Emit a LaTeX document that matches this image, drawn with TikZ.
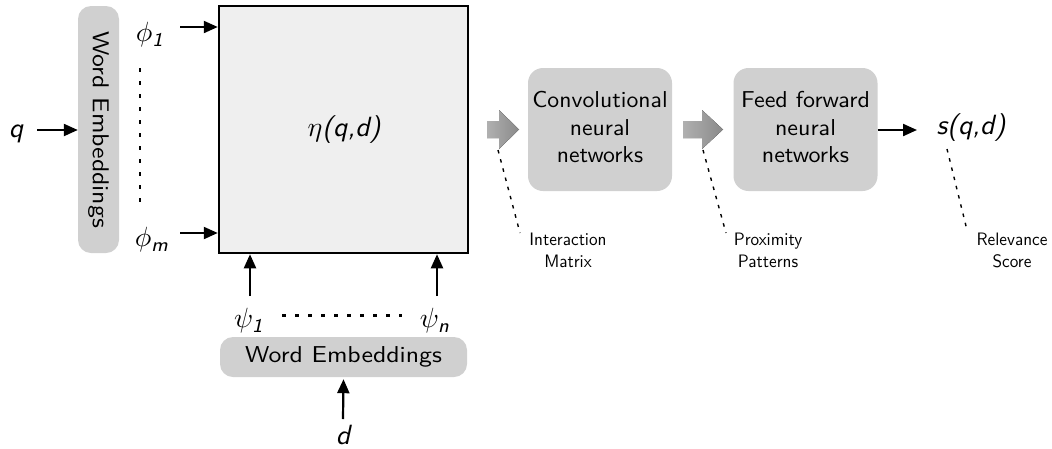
\documentclass[tikz,border=0pt]{standalone}
\usepackage{graphicx}
\usepackage{amsmath}
\usetikzlibrary{arrows.meta}
\renewcommand{\familydefault}{\sfdefault}
\definecolor{boxgray}{HTML}{D0D0D0}
\definecolor{matfill}{HTML}{EFEFEF}
\newcommand{\btxt}[2]{\scalebox{#1}[2.3]{\begin{tabular}{@{}c@{}}#2\end{tabular}}}
\newcommand{\ltxt}[1]{\scalebox{1.72}[1.8]{\begin{tabular}{@{}c@{}}#1\end{tabular}}}
\newcommand{\vtxt}[1]{\scalebox{2.78}{\itshape #1}}
\newcommand{\sbi}[1]{\text{\itshape #1}}
\begin{document}
\begin{tikzpicture}[x=1pt,y=-1pt,
  font=\fontsize{10}{12}\selectfont\sffamily,
  emb/.style={fill=boxgray, rounded corners=13pt, inner sep=0pt},
  nn/.style={fill=boxgray, rounded corners=15pt, minimum width=144pt, minimum height=123pt, align=center, inner sep=0pt},
  arr/.style={-{Triangle[length=14pt,width=12pt]}, line width=2.2pt},
  bigdots/.style={dash pattern=on 4pt off 9pt, line width=2.8pt},
  thindots/.style={dash pattern=on 3.5pt off 6pt, line width=1.4pt},
  lbl/.style={inner sep=0pt},
  var/.style={inner sep=0pt},
  bigarrow/.style={left color=gray!62, right color=gray!92}]
\useasboundingbox (0,0) rectangle (1052,448);

% left word embeddings
\node[emb, rotate=-90, minimum width=247pt, minimum height=41pt] (wq) at (98.5,129.5) {\btxt{2.58}{Word Embeddings}};
\node[var] (q) at (16,134) {\vtxt{q}};
\coordinate (qs) at (37,130);
\draw[arr] (qs) -- (qs -| wq.south);

% interaction matrix
\node[draw, line width=2.5pt, fill=matfill, minimum width=249pt, minimum height=247pt, inner sep=0pt] (M) at (343.5,129.5) {};
\node[var] (eta) at (344,130) {\vtxt{$\eta$(q,d)}};

% phi side
\node[var] (phi1) at (150,35) {\vtxt{$\phi_{\sbi{1}}$}};
\node[var] (phim) at (152,240) {\vtxt{$\phi_{\sbi{m}}$}};
\coordinate (p1s) at (180,27);
\coordinate (pms) at (180,233);
\draw[arr] (p1s) -- (p1s -| M.west);
\draw[arr] (pms) -- (pms -| M.west);
\draw[bigdots] (140,68) -- (140,204);

% psi side
\node[var] (psi1) at (249,321) {\vtxt{$\psi_{\sbi{1}}$}};
\node[var] (psin) at (435,321) {\vtxt{$\psi_{\sbi{n}}$}};
\coordinate (s1s) at (250,296);
\coordinate (sns) at (437,296);
\draw[arr] (s1s) -- (s1s |- M.south);
\draw[arr] (sns) -- (sns |- M.south);
\draw[bigdots] (282,315.5) -- (402,315.5);

% bottom word embeddings
\node[emb, minimum width=247pt, minimum height=40pt] (wd) at (343.5,357) {\btxt{2.58}{Word Embeddings}};
\node[var] (d) at (343,434.5) {\vtxt{d}};
\coordinate (ds) at (343,419);
\draw[arr] (ds) -- ([yshift=-2pt]wd.south);

% big arrows
\fill[bigarrow] (487,121) -- (499,121) -- (499,110) -- (519,129.5) -- (499,149) -- (499,138) -- (487,138) -- cycle;
\fill[bigarrow] (683,121) -- (702,121) -- (702,110) -- (723,129.5) -- (702,149) -- (702,138) -- (683,138) -- cycle;

% neural nets
\node[nn] (cnn) at (600,129.5) {\btxt{2.37}{Convolutional\\neural\\networks}};
\node[nn] (ffn) at (805.5,129.5) {\btxt{2.4}{Feed forward\\neural\\networks}};

% output
\node[var] (s) at (971,128) {\vtxt{s(q,d)}};
\draw[arr] (ffn.east) ++(0,0.5) -- (917,130);

% annotations
\node[lbl] (im) at (568,252) {\ltxt{Interaction\\Matrix}};
\node[lbl] (pp) at (768,252) {\ltxt{Proximity\\Patterns}};
\node[lbl] (rs) at (1012,252) {\ltxt{Relevance\\Score}};
\draw[thindots] (498,150) -- (520,233);
\draw[thindots] (703,150) -- (726,233);
\draw[thindots] (947,149) -- (967,230);
\end{tikzpicture}
\end{document}
